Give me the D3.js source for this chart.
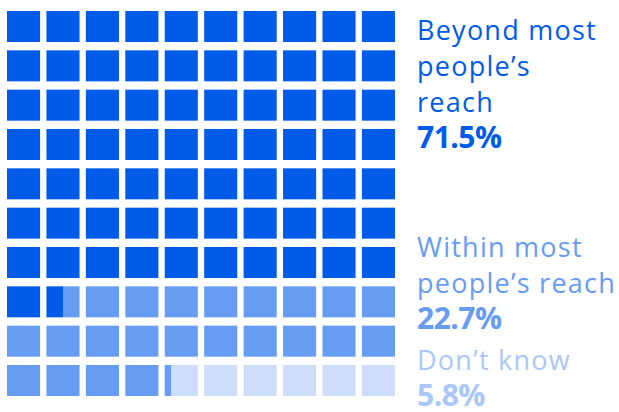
<!DOCTYPE html>
<html>
<head>
<meta charset="utf-8">
<script src="https://cdn.jsdelivr.net/npm/d3@7"></script>
<style>
  html, body { margin: 0; padding: 0; background: #fff; }
  svg { display: block; }
  .label { font-family: "Open Sans", Lato, sans-serif; font-size: 27px; font-weight: 400; letter-spacing: 1.25px; }
  .value { font-family: "Open Sans", Lato, sans-serif; font-size: 30px; font-weight: 700; letter-spacing: -0.5px; }
</style>
</head>
<body>
<svg id="chart"></svg>
<script>
'use strict';

// data
var categories = ["Beyond most people’s reach", "Within most people’s reach", "Don’t know"];
var labelLines = [["Beyond most", "people’s", "reach"], ["Within most", "people’s reach"], ["Don’t know"]];
var values = [71.5, 22.7, 5.8];
var valueLabels = ["71.5%", "22.7%", "5.8%"];

var cellColors = ["#005be9", "#669cf2", "#cdddfa"];
var textColors = ["#005be9", "#669cf2", "#a9c7f8"];

var width = 619, height = 412;
var cols = 10, rows = 10;

var svg = d3.select("#chart")
  .attr("width", width)
  .attr("height", height);

var x = d3.scaleBand().domain(d3.range(cols)).range([7, 395]).paddingInner(0.161).paddingOuter(0);
var y = d3.scaleBand().domain(d3.range(rows)).range([11, 396]).paddingInner(0.212).paddingOuter(0);

// split each category into pieces of cells (one unit = one cell)
var pieces = [];
var start = 0;
values.forEach(function(v, ci) {
  var end = start + v;
  for (var i = Math.floor(start); i < Math.ceil(end - 1e-9); i++) {
    var a = Math.max(start, i), b = Math.min(end, i + 1);
    if (b - a < 1e-9) continue;
    pieces.push({ cat: ci, cell: i, from: a - i, len: b - a });
  }
  start = end;
});

var bw = x.bandwidth();
svg.append("g").selectAll("rect")
  .data(pieces)
  .join("rect")
    .attr("x", function(d) { return x(d.cell % cols) + d.from * bw; })
    .attr("y", function(d) { return y(Math.floor(d.cell / cols)); })
    .attr("width", function(d) { return d.len * bw; })
    .attr("height", y.bandwidth())
    .attr("fill", function(d) { return cellColors[d.cat]; });

// legend text
var legendX = 417;
var groupTop = [40, 257, 370];
var lineH = 36;

var legend = svg.append("g").selectAll("g")
  .data(categories)
  .join("g")
    .attr("transform", function(d, i) { return "translate(" + legendX + "," + groupTop[i] + ")"; });

legend.each(function(d, i) {
  var g = d3.select(this);
  var lines = labelLines[i];
  g.selectAll("text.label")
    .data(lines)
    .join("text")
      .attr("class", "label")
      .attr("y", function(l, j) { return j * lineH; })
      .attr("fill", textColors[i])
      .text(function(l) { return l; });
  g.append("text")
    .attr("class", "value")
    .attr("y", lines.length * lineH - 0.5)
    .attr("fill", textColors[i])
    .text(valueLabels[i]);
});
</script>
</body>
</html>
